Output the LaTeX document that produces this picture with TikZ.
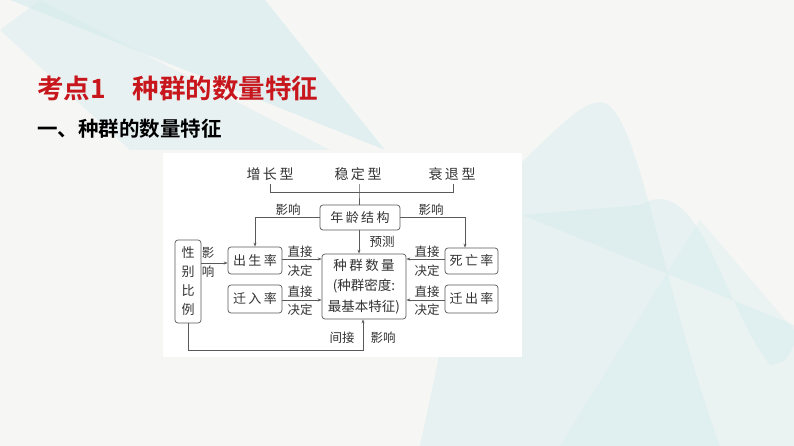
\documentclass[tikz,border=0pt]{standalone}
\usepackage{fontspec}
\setmainfont{Noto Sans CJK SC}[BoldFont={Noto Sans CJK SC Bold}]
\usetikzlibrary{arrows.meta}
\definecolor{bgc}{HTML}{F6F6F5}
\definecolor{teal1}{HTML}{D3EBEC}
\definecolor{titlered}{HTML}{C8161D}
\definecolor{linec}{HTML}{5A5A5A}
\definecolor{txtc}{HTML}{333333}
\newcommand{\gp}{\hspace{2.5pt}}
\begin{document}
\begin{tikzpicture}[x=1pt,y=-1pt,
  box/.style={draw=linec, rounded corners=3pt, line width=0.7pt, inner sep=0pt, text=txtc, font=\fontsize{13}{15}\selectfont},
  lbl/.style={text=txtc, inner sep=0pt, font=\fontsize{12.5}{14}\selectfont},
  big/.style={text=txtc, inner sep=0pt, font=\fontsize{14}{16}\selectfont},
  conn/.style={draw=linec, line width=0.7pt},
  arr/.style={conn, -{Stealth[length=4pt,width=3pt]}}]
\useasboundingbox (0,0) rectangle (794,446);
% background
\fill[bgc] (0,0) rectangle (794,446);
\fill[teal1, opacity=0.55] (10,0) -- (265,0) -- (385,150) -- cycle;
\fill[teal1, opacity=0.4] (0,30) -- (40,0) -- (330,150) -- (130,150) -- cycle;
\fill[teal1, opacity=0.42] (470,210) .. controls (540,150) and (580,95) .. (605,103)
   .. controls (640,120) and (660,280) .. (720,446) -- (420,446) -- cycle;
\fill[teal1, opacity=0.42] (640,205) .. controls (700,170) and (720,300) .. (770,365)
   .. controls (785,362) .. (794,345) -- (794,325) -- (522,215) -- cycle;
\fill[teal1, opacity=0.3] (560,446) -- (700,220) -- (794,330) -- (794,446) -- cycle;
% panel
\fill[white] (163,153) rectangle (522,357);
% title
\node[anchor=west, inner sep=0pt, text=titlered, font=\fontsize{26.5}{30}\selectfont\bfseries] (title) at (37,88) {考点1\hspace{27pt}种群的数量特征};
\node[anchor=west, inner sep=0pt, text=black, font=\fontsize{20.5}{24}\selectfont\bfseries] (sub) at (37,129) {一、种群的数量特征};
% top types
\node[big] (zzx) at (270,174) {增\gp 长\gp 型};
\node[big] (wdx) at (358,174) {稳\gp 定\gp 型};
\node[big] (stx) at (452,174) {衰\gp 退\gp 型};
% boxes
\node[box, minimum width=80pt, minimum height=25pt] (nl) at (360,217.5) {年\gp 龄\gp 结\gp 构};
\node[box, minimum width=54pt, minimum height=27pt] (csl) at (255,260.5) {出\gp 生\gp 率};
\node[box, minimum width=54pt, minimum height=28pt] (qrl) at (255,299) {迁\gp 入\gp 率};
\node[box, minimum width=84pt, minimum height=65pt, align=center, font=\fontsize{13.5}{20.5}\selectfont] (zq) at (364,286.5) {种\gp 群\gp 数\gp 量\\(种群密度:\\最基本特征)};
\node[box, minimum width=53pt, minimum height=26pt] (swl) at (471.5,261) {死\gp 亡\gp 率};
\node[box, minimum width=53pt, minimum height=28pt] (qcl) at (471.5,299) {迁\gp 出\gp 率};
\node[box, minimum width=26pt, minimum height=83pt, align=center, font=\fontsize{13}{19}\selectfont] (xb) at (188,281.5) {性\\别\\比\\例};
% bracket
\coordinate (bl) at (270,192);
\coordinate (br) at (453,192);
\coordinate (bm) at (359,192);
\draw[conn] (270,184) -- (bl) -- (br) -- (453,184);
\draw[conn] (359,184) -- (bm) -- (bm |- nl.north);
% connectors
\draw[arr] (nl.west) -| (csl.north);
\coordinate (swtop) at ([xshift=-6.5pt]swl.north);
\draw[arr] (nl.east) -| (swtop);
\draw[arr] (nl.south -| bm) -- (zq.north -| bm);
\coordinate (p1) at ([yshift=18.5pt]xb.east);
\draw[arr] (p1) -- (p1 -| csl.west);
\coordinate (p2) at ([yshift=1.5pt]csl.east);
\draw[arr] (p2) -- (p2 -| zq.west);
\coordinate (p3) at ([yshift=-1pt]qrl.east);
\draw[arr] (p3) -- (p3 -| zq.west);
\coordinate (p4) at ([yshift=2pt]swl.west);
\draw[arr] (p4) -- (p4 -| zq.east);
\coordinate (p5) at ([yshift=-1pt]qcl.west);
\draw[arr] (p5) -- (p5 -| zq.east);
\coordinate (p6) at (188,350);
\coordinate (p7) at (363,350);
\draw[arr] (xb.south) -- (p6) -- (p7) -- (p7 |- zq.south);
% labels
\node[lbl] (l1) at (288,210) {影响};
\node[lbl] (l2) at (431,210) {影响};
\node[lbl] (l3) at (382,242) {预测};
\node[lbl] (l4) at (208,253) {影};
\node[lbl] (l5) at (208,272) {响};
\node[lbl] (l6) at (300,252) {直接};
\node[lbl] (l7) at (300,271) {决定};
\node[lbl] (l8) at (300,292) {直接};
\node[lbl] (l9) at (300,310) {决定};
\node[lbl] (l10) at (427,252) {直接};
\node[lbl] (l11) at (427,271) {决定};
\node[lbl] (l12) at (427,292) {直接};
\node[lbl] (l13) at (427,310) {决定};
\node[lbl] (l14) at (342,338) {间接};
\node[lbl] (l15) at (383,338) {影响};
\end{tikzpicture}
\end{document}
